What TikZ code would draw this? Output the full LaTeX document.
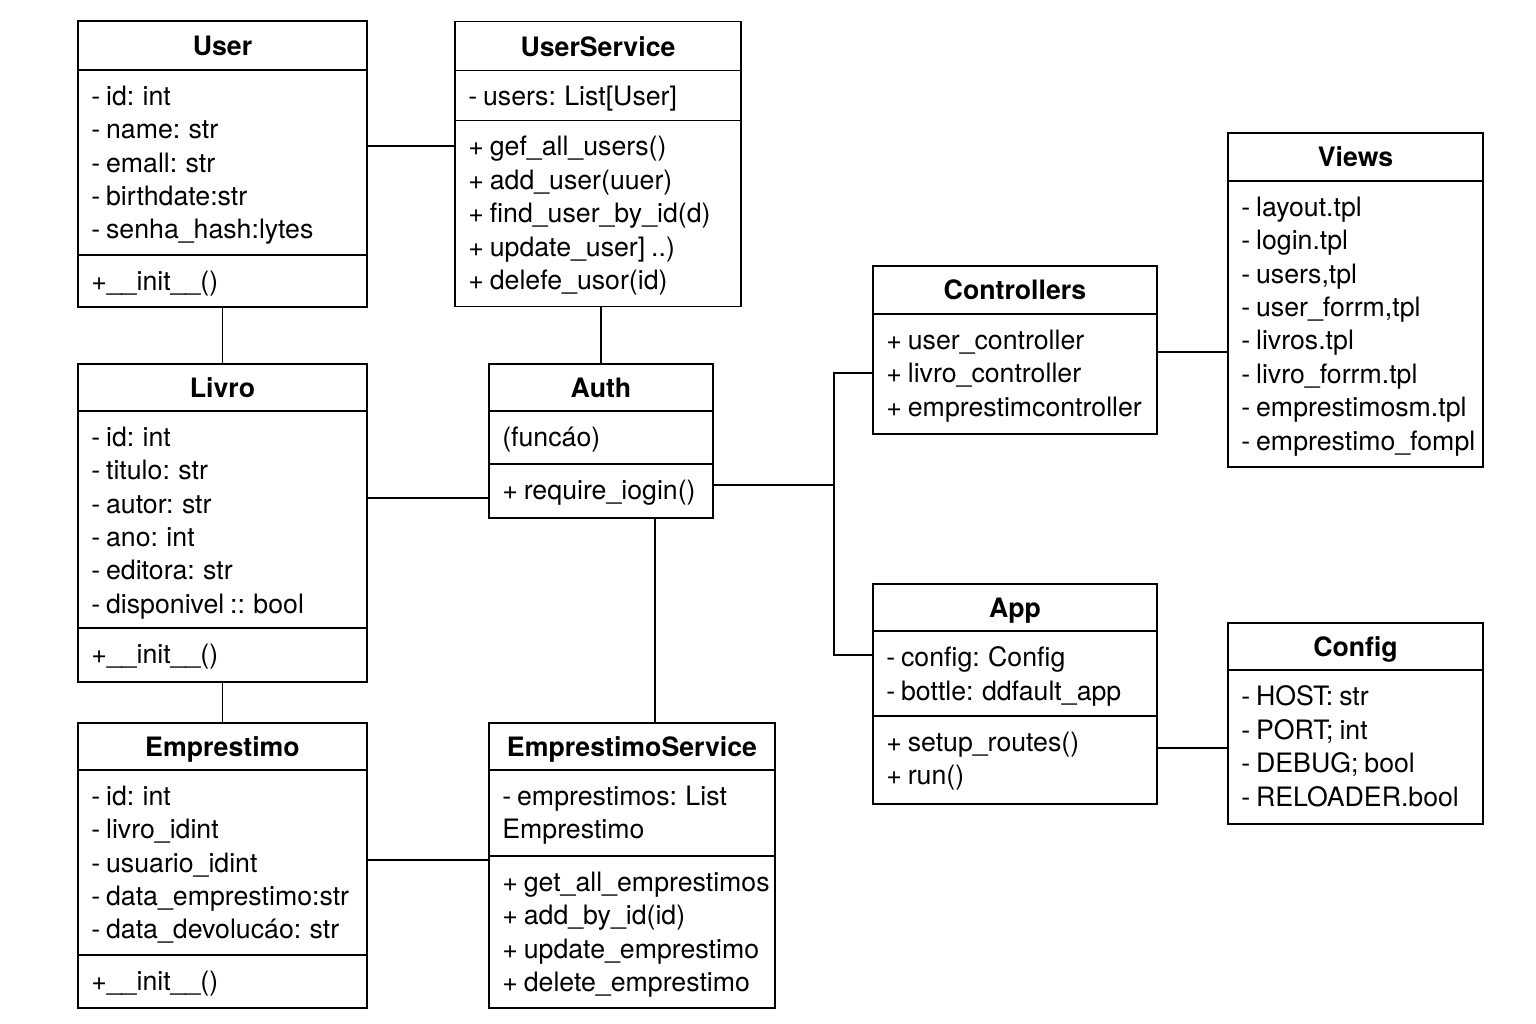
\documentclass[tikz,border=0pt]{standalone}
\usepackage{fontspec}
\setmainfont{TeX Gyre Heros}[WordSpace=0.8]
\usetikzlibrary{positioning}

\tikzstyle{classbox} = [rectangle, draw, line width=1.8pt]
\tikzstyle{classname} = [anchor=base, inner sep=0pt,
    font=\bfseries\fontsize{26.7}{33.4}\selectfont]
\tikzstyle{members} = [anchor=north west, align=left, inner xsep=14pt, inner ysep=15.6pt,
    font=\fontsize{26.7}{33.4}\selectfont, execute at begin node=\strut]
\tikzstyle{oneliner} = [members, inner ysep=11.6pt]
\tikzstyle{divider} = [line width=1.8pt]
\tikzstyle{link} = [line width=1.8pt]

\begin{document}
\begin{tikzpicture}[x=1pt, y=-1pt]
    \path[use as bounding box, fill=white] (0,0) rectangle (1536,1024);

    % Models
    \node [classbox, minimum width=289pt, minimum height=286pt] (user) at (222.5,164) {};
    \node [classname] (user-name) at ([yshift=-35.5pt]user.north) {User};
    \draw [divider] ([yshift=-50pt]user.north west) -- ([yshift=-50pt]user.north east);
    \node [members] (user-attrs) at ([yshift=-50pt]user.north west)
        {- id: int\\- name: str\\- emall: str\\- birthdate:str\\- senha\_hash:lytes};
    \draw [divider] ([yshift=-235pt]user.north west) -- ([yshift=-235pt]user.north east);
    \node [oneliner] (user-ops) at ([yshift=-235pt]user.north west) {+\_\_init\_\_()};

    \node [classbox, minimum width=289pt, minimum height=318pt, below=55.2pt of user] (livro) {};
    \node [classname] (livro-name) at ([yshift=-34.5pt]livro.north) {Livro};
    \draw [divider] ([yshift=-48pt]livro.north west) -- ([yshift=-48pt]livro.north east);
    \node [members] (livro-attrs) at ([yshift=-48pt]livro.north west)
        {- id: int\\- titulo: str\\- autor: str\\- ano: int\\- editora: str\\- disponivel :: bool};
    \draw [divider] ([yshift=-265pt]livro.north west) -- ([yshift=-265pt]livro.north east);
    \node [oneliner] (livro-ops) at ([yshift=-265pt]livro.north west) {+\_\_init\_\_()};

    \node [classbox, minimum width=289pt, minimum height=285pt, below=39.2pt of livro] (emprestimo) {};
    \node [classname] (emprestimo-name) at ([yshift=-34.5pt]emprestimo.north) {Emprestimo};
    \draw [divider] ([yshift=-48pt]emprestimo.north west) -- ([yshift=-48pt]emprestimo.north east);
    \node [members] (emprestimo-attrs) at ([yshift=-48pt]emprestimo.north west)
        {- id: int\\- livro\_idint\\- usuario\_idint\\- data\_emprestimo:str\\- data\_devolucáo: str};
    \draw [divider] ([yshift=-233pt]emprestimo.north west) -- ([yshift=-233pt]emprestimo.north east);
    \node [oneliner] (emprestimo-ops) at ([yshift=-233pt]emprestimo.north west) {+\_\_init\_\_()};

    % Services
    \node [classbox, minimum width=286pt, minimum height=285pt, right=86.2pt of user] (userservice) {};
    \node [classname] (userservice-name) at ([yshift=-35.5pt]userservice.north) {UserService};
    \draw [divider] ([yshift=-50pt]userservice.north west) -- ([yshift=-50pt]userservice.north east);
    \node [oneliner] (userservice-attrs) at ([yshift=-50pt]userservice.north west) {- users: List[User]};
    \draw [divider] ([yshift=-100pt]userservice.north west) -- ([yshift=-100pt]userservice.north east);
    \node [members] (userservice-ops) at ([yshift=-100pt]userservice.north west)
        {+ gef\_all\_users()\\+ add\_user(uuer)\\+ find\_user\_by\_id(d)\\+ update\_user] ..)\\+ delefe\_usor(id)};

    \node [classbox, minimum width=224pt, minimum height=154pt] (auth) at (601,441) {};
    \node [classname] (auth-name) at ([yshift=-34.5pt]auth.north) {Auth};
    \draw [divider] ([yshift=-48pt]auth.north west) -- ([yshift=-48pt]auth.north east);
    \node [oneliner] (auth-attrs) at ([yshift=-48pt]auth.north west) {(funcáo)};
    \draw [divider] ([yshift=-101pt]auth.north west) -- ([yshift=-101pt]auth.north east);
    \node [oneliner] (auth-ops) at ([yshift=-101pt]auth.north west) {+ require\_iogin()};

    \node [classbox, minimum width=286pt, minimum height=285pt, right=120.2pt of emprestimo] (empservice) {};
    \node [classname] (empservice-name) at ([yshift=-34.5pt]empservice.north) {EmprestimoService};
    \draw [divider] ([yshift=-48pt]empservice.north west) -- ([yshift=-48pt]empservice.north east);
    \node [members] (empservice-attrs) at ([yshift=-48pt]empservice.north west)
        {- emprestimos: List\\Emprestimo};
    \draw [divider] ([yshift=-134pt]empservice.north west) -- ([yshift=-134pt]empservice.north east);
    \node [members] (empservice-ops) at ([yshift=-134pt]empservice.north west)
        {+ get\_all\_emprestimos\\+ add\_by\_id(id)\\+ update\_emprestimo\\+ delete\_emprestimo};

    % Web layer
    \node [classbox, minimum width=284pt, minimum height=168pt] (controllers) at (1015,350) {};
    \node [classname] (controllers-name) at ([yshift=-34.5pt]controllers.north) {Controllers};
    \draw [divider] ([yshift=-49pt]controllers.north west) -- ([yshift=-49pt]controllers.north east);
    \node [members] (controllers-ops) at ([yshift=-49pt]controllers.north west)
        {+ user\_controller\\+ livro\_controller\\+ emprestimcontroller};

    \node [classbox, minimum width=255pt, minimum height=334pt] (views) at (1355.5,300) {};
    \node [classname] (views-name) at ([yshift=-34.5pt]views.north) {Views};
    \draw [divider] ([yshift=-49pt]views.north west) -- ([yshift=-49pt]views.north east);
    \node [members] (views-attrs) at ([yshift=-49pt]views.north west)
        {- layout.tpl\\- login.tpl\\- users,tpl\\- user\_forrm,tpl\\- livros.tpl\\- livro\_forrm.tpl\\- emprestimosm.tpl\\- emprestimo\_fompl};

    \node [classbox, minimum width=284pt, minimum height=220pt, below=148.2pt of controllers] (app) {};
    \node [classname] (app-name) at ([yshift=-34.5pt]app.north) {App};
    \draw [divider] ([yshift=-48pt]app.north west) -- ([yshift=-48pt]app.north east);
    \node [members] (app-attrs) at ([yshift=-48pt]app.north west)
        {- config: Config\\- bottle: ddfault\_app};
    \draw [divider] ([yshift=-133pt]app.north west) -- ([yshift=-133pt]app.north east);
    \node [members] (app-ops) at ([yshift=-133pt]app.north west)
        {+ setup\_routes()\\+ run()};

    \node [classbox, minimum width=255pt, minimum height=201pt] (config) at (1355.5,723.5) {};
    \node [classname] (config-name) at ([yshift=-34.5pt]config.north) {Config};
    \draw [divider] ([yshift=-48pt]config.north west) -- ([yshift=-48pt]config.north east);
    \node [members] (config-attrs) at ([yshift=-48pt]config.north west)
        {- HOST: str\\- PORT; int\\- DEBUG; bool\\- RELOADER.bool};

    % Associations
    \coordinate (bus) at (834,485);
    \draw [link] ([yshift=18pt]user.east) -- ([yshift=18pt]user.east -| userservice.west);
    \draw [link] (user.south) -- (livro.north);
    \draw [link] (livro.south) -- (emprestimo.north);
    \draw [link] (auth.north) -- (auth.north |- userservice.south);
    \draw [link] ([yshift=-57pt]auth.west -| livro.east) -- ([yshift=-57pt]auth.west);
    \draw [link] ([xshift=54pt]auth.south) -- ([xshift=54pt]auth.south |- empservice.north);
    \draw [link] ([yshift=5.5pt]emprestimo.east) -- ([yshift=5.5pt]emprestimo.east -| empservice.west);
    \draw [link] ([yshift=-44pt]auth.east) -- (bus);
    \draw [link] ([yshift=-23pt]controllers.west) -| (bus) |- ([yshift=39pt]app.west);
    \draw [link] ([yshift=-2pt]controllers.east) -- ([yshift=-2pt]controllers.east -| views.west);
    \draw [link] ([yshift=-54pt]app.east) -- ([yshift=-54pt]app.east -| config.west);
\end{tikzpicture}
\end{document}
